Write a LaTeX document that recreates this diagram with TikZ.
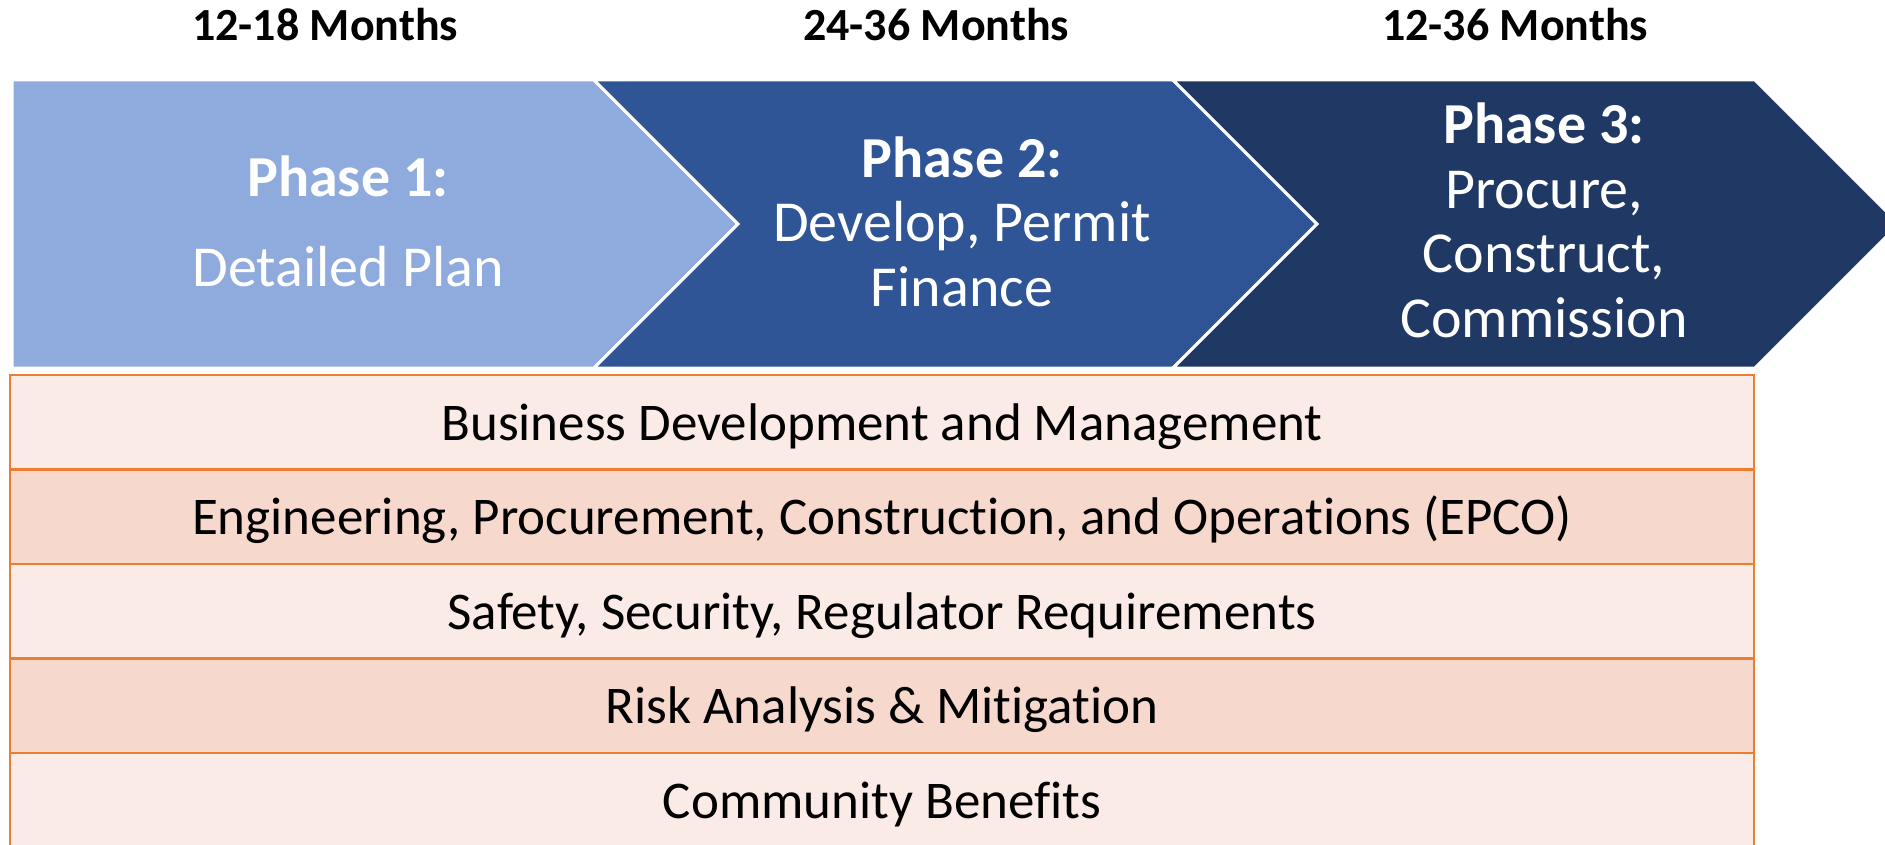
\documentclass[tikz,border=0pt]{standalone}
\usepackage{fontspec}
\setmainfont{Carlito}[Ligatures=CommonOff]
\usepackage{tikz}
\usetikzlibrary{positioning}

\definecolor{phaseLight}{HTML}{8FAADC}
\definecolor{phaseMid}{HTML}{2F5597}
\definecolor{phaseDark}{HTML}{203864}
\definecolor{rowBorder}{HTML}{ED7D31}
\definecolor{rowLight}{HTML}{FAEBE7}
\definecolor{rowDark}{HTML}{F7D8CD}

\tikzstyle{chevron} = [
    draw=white,
    line width=3pt,
    line join=miter
    ]
\tikzstyle{monthLabel} = [
    anchor=base,
    font=\bfseries\fontsize{46}{50}\selectfont
    ]
\tikzstyle{phaseText} = [
    text=white,
    align=center,
    anchor=base,
    font=\fontsize{58}{64.5}\selectfont
    ]
\tikzstyle{lightRow} = [
    rectangle,
    draw=rowBorder,
    fill=rowLight,
    line width=2.5pt,
    minimum width=1744pt,
    minimum height=94.5pt,
    outer sep=0pt,
    text height=36pt,
    text depth=0pt,
    text centered,
    font=\fontsize{53}{58}\selectfont
    ]
\tikzstyle{darkRow} = [
    lightRow,
    fill=rowDark
    ]

\begin{document}
\begin{tikzpicture}[x=1pt, y=-1pt]
      \useasboundingbox (0,0) rectangle (1885,845);
      \clip (0,0) rectangle (1885,845);
      % phase arrows
      \filldraw[chevron, fill=phaseLight] (12,80) -- (594,80) -- (738,224) -- (594,368) -- (12,368) -- cycle;
      \filldraw[chevron, fill=phaseMid] (594,80) -- (1173,80) -- (1317,224) -- (1173,368) -- (594,368) -- (738,224) -- cycle;
      \filldraw[chevron, fill=phaseDark] (1173,80) -- (1755,80) -- (1899,224) -- (1755,368) -- (1173,368) -- (1317,224) -- cycle;
      \node[monthLabel] at (325,41) (monthsOne) {12-18 Months};
      \node[monthLabel] at (936,41) (monthsTwo) {24-36 Months};
      \node[monthLabel] at (1515,41) (monthsThree) {12-36 Months};
      % text nodes sit on their last baseline
      \node[phaseText] at (348,286) (phaseOne) {\textbf{Phase 1:}\\[25.5pt]Detailed Plan};
      \node[phaseText] at (962,306) (phaseTwo) {\textbf{Phase 2:}\\Develop, Permit\\Finance};
      \node[phaseText] at (1544,337) (phaseThree) {\textbf{Phase 3:}\\Procure,\\Construct,\\Commission};
      % work streams
      \node[lightRow] at (882,422) (business) {Business Development and Management};
      \node[darkRow, below=0pt of business] (epco) {Engineering, Procurement, Construction, and Operations (EPCO)};
      \node[lightRow, below=0pt of epco] (safety) {Safety, Security, Regulator Requirements};
      \node[darkRow, below=0pt of safety] (risk) {Risk Analysis \& Mitigation};
      \node[lightRow, below=0pt of risk] (community) {Community Benefits};
    \end{tikzpicture}
\end{document}
